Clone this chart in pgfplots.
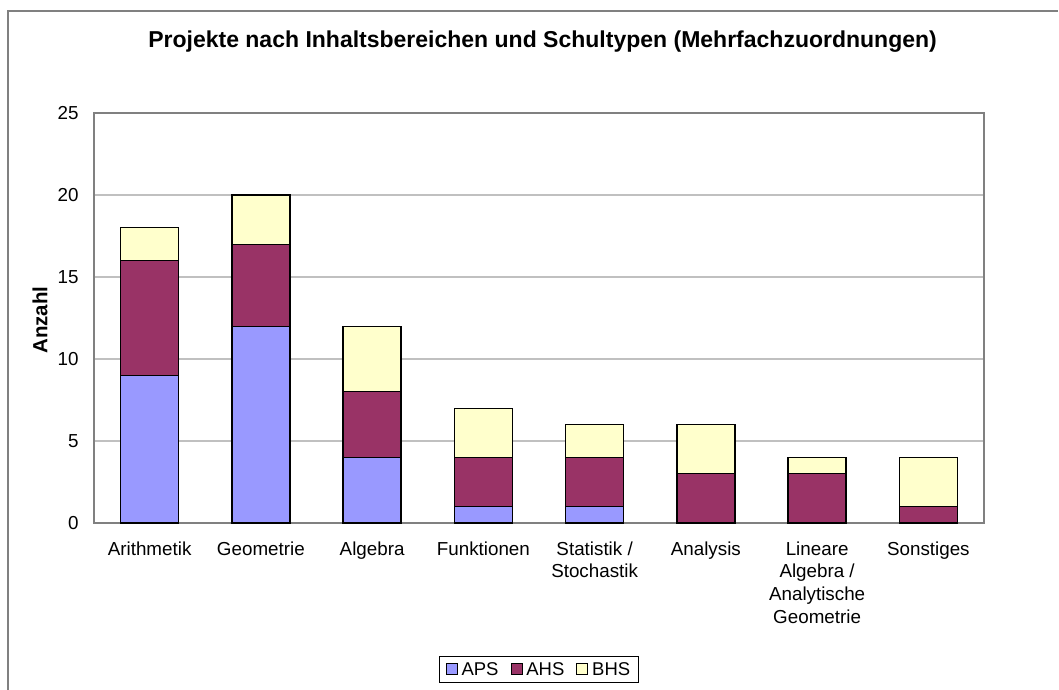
\documentclass[border=0pt]{standalone}
\usepackage{fontspec}
\setmainfont{Liberation Sans}
\usepackage{pgfplots}
\pgfplotsset{compat=1.18}
\definecolor{aps}{RGB}{153,153,255}
\definecolor{ahs}{RGB}{153,51,102}
\definecolor{bhs}{RGB}{255,255,204}
\definecolor{frame}{RGB}{128,128,128}
\definecolor{gridc}{RGB}{192,192,192}
\pgfplotstableread{
x aps ahs bhs
0 9 7 2
1 12 5 3
2 4 4 4
3 1 3 3
4 1 3 2
5 0 3 3
6 0 3 1
7 0 1 3
}\data
\begin{document}
\begin{tikzpicture}
\begin{axis}[
  anchor=south west,
  scale only axis, width=890pt, height=410pt,
  ybar stacked, bar width=58pt,
  xmin=-0.5, xmax=7.5, ymin=0, ymax=25,
  ytick={0,5,...,25},
  xtick={0,...,7},
  xticklabels={Arithmetik, Geometrie, Algebra, Funktionen, {Statistik /\\Stochastik}, Analysis, {Lineare\\Algebra /\\Analytische\\Geometrie}, Sonstiges},
  major tick length=0pt,
  axis line style={frame, line width=1.1pt},
  ymajorgrids, grid style={gridc, line width=1.2pt},
  /pgf/number format/assume math mode=true,
  tick label style={font=\fontsize{18.8}{22.7}\selectfont},
  xticklabel style={align=center, yshift=-15pt},
  yticklabel style={xshift=-12pt},
  ylabel={Anzahl},
  ylabel style={at={(axis description cs:-0.0607,0.495)}, anchor=center, font=\bfseries\fontsize{20.5}{24}\selectfont},
  title={Projekte nach Inhaltsbereichen und Schultypen (Mehrfachzuordnungen)},
  title style={at={(axis description cs:0.504,1.1463)}, anchor=base, font=\bfseries\fontsize{23}{26}\selectfont},
  legend style={at={(axis description cs:0.5,-0.3244)}, anchor=north, legend columns=-1, draw=black, line width=0.8pt,
    inner xsep=6pt, inner ysep=4pt,
    font=\fontsize{18.5}{22}\selectfont,
    /tikz/every even column/.append style={column sep=10pt},
    /tikz/every odd column/.append style={column sep=2pt}},
  legend image code/.code={\draw[#1, draw=black, line width=0.8pt] (0pt,-5pt) rectangle (11pt,6pt);},
  every axis plot/.append style={draw=black, line width=1.3pt},
]
\addplot[fill=aps] table[x=x,y=aps]{\data};
\addplot[fill=ahs] table[x=x,y=ahs]{\data};
\addplot[fill=bhs] table[x=x,y=bhs]{\data};
\legend{APS, AHS, BHS}
\end{axis}
\useasboundingbox (-94pt,-166pt) rectangle (965pt,523pt);
\draw[frame,line width=1.2pt] (-86pt,-170pt) -- (-86pt,512pt) -- (964pt,512pt);
\end{tikzpicture}
\end{document}
